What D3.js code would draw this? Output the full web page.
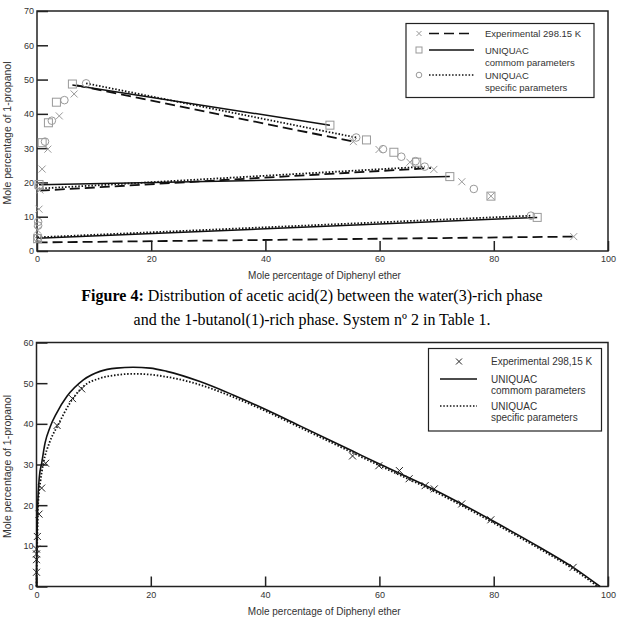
<!DOCTYPE html>
<html>
<head>
<meta charset="utf-8">
<script src="https://cdn.jsdelivr.net/npm/d3@7"></script>
<style>
  body { margin: 0; background: #fff; }
  svg { display: block; }
  .tick text { font-family: "Liberation Sans", Arial, sans-serif; font-size: 9px; fill: #333; }
  .lbl { font-family: "Liberation Sans", Arial, sans-serif; fill: #333; }
  .cap { font-family: "Liberation Serif", "Times New Roman", serif; font-size: 16px; fill: #000; }
</style>
</head>
<body>
<div id="chart"></div>
<script>
// ---- data: top chart (tie lines) ----
const topExp = [[0.1,3.3],[0.1,6.1],[0.35,12.2],[0.5,17.8],[0.9,23.9],[1.9,29.7],[3.9,39.4],[6.5,45.8],
  [55.4,31.9],[59.9,29.6],[65.3,25.9],[69.5,23.8],[74.4,20.2],[79.5,16.0],[94.0,4.2]]
const topCommon = [[0.1,3.6],[0.35,19.4],[0.9,31.6],[2.0,37.4],[3.4,43.4],[6.2,48.7],
  [51.3,36.7],[57.7,32.4],[62.5,28.8],[66.5,25.9],[72.3,21.7],[79.5,16.0],[87.6,9.8]]
const topSpecific = [[0.1,3.9],[0.2,7.4],[0.2,8.5],[0.3,18.8],[1.4,31.9],[2.6,38.0],[4.8,44.0],[8.6,48.9],
  [55.9,33.1],[60.6,29.7],[63.8,27.5],[66.3,26.2],[67.9,24.6],[76.5,18.1],[86.5,10.3]]
const tieExp = [[[0.1,2.5],[94.0,4.2]], [[0.5,17.6],[69.0,24.2]], [[7.0,48.3],[55.4,31.9]]]
const tieCommon = [[[0.1,3.7],[87.6,9.8]], [[0.35,19.3],[72.3,21.7]], [[6.2,48.4],[51.3,36.7]]]
const tieSpecific = [[[0.1,4.0],[86.5,10.3]], [[0.3,18.2],[67.9,24.6]], [[8.6,48.9],[55.9,33.1]]]

// ---- data: bottom chart (binodal curve) ----
const botExp = [[0.0,3.5],[0.0,6.6],[0.0,8.0],[0.0,9.2],[0.15,12.3],[0.44,17.8],[0.9,24.2],[1.6,30.3],[3.6,39.6],
  [6.3,46.2],[7.9,48.6],[55.3,32.1],[59.9,29.7],[63.5,28.5],[65.2,26.5],[68.0,24.8],[69.6,24.0],
  [74.4,20.3],[79.5,16.4],[93.9,4.7]]
const botCommon = [[0,0],[0.03,5],[0.08,10],[0.15,17],[0.5,27],[0.9,30.3],[1.5,35.3],[2.4,39.3],[3.5,42.6],
  [5.3,46.7],[8.2,50.8],[11.1,52.9],[14,53.7],[16.9,53.9],[19.9,53.7],[22.8,52.9],[28.6,50.4],[34.4,47.1],
  [40.3,43.4],[46.1,39.5],[55.3,33.3],[60.2,30.0],[69.6,23.8],[74.4,20.3],[79.5,16.4],[88.1,9.6],
  [93.9,4.7],[98.6,0]]
const botSpecific = [[0,0],[0.05,6],[0.15,12],[0.3,20.5],[0.7,26],[1.2,30.3],[2.3,35.5],[3.8,39.8],[5.8,45],
  [8.2,49.2],[11.1,51.2],[14,52],[16.9,52.3],[20,52.1],[23,51.5],[28.6,49.6],[34.4,46.6],[40.3,43.0],
  [46.1,39.1],[55.3,32.9],[60.2,29.6],[69.6,23.4],[74.4,19.9],[79.5,16.0],[88.1,9.2],[93.9,4.3],[98.2,0]]

const xTicks = [0, 20, 40, 60, 80, 100]
const yTicksTop = [0, 10, 20, 30, 40, 50, 60, 70]
const yTicksBot = [0, 10, 20, 30, 40, 50, 60]
const xTitle = 'Mole percentage of Diphenyl ether'
const yTitle = 'Mole percentage of 1-propanol'
const topLegend = [['Experimental 298.15 K'], ['UNIQUAC', 'commom parameters'], ['UNIQUAC', 'specific parameters']]
const botLegend = [['Experimental 298,15 K'], ['UNIQUAC', 'commom parameters'], ['UNIQUAC', 'specific parameters']]
const caption = ['Distribution of acetic acid(2) between the water(3)-rich phase',
  'and the 1-butanol(1)-rich phase. System nº 2 in Table 1.']

const W = 625, H = 617
const svg = d3.select('#chart').append('svg').attr('width', W).attr('height', H)

const DASH = '10,5', DOT = '1.5,1.8'
const GRAY = '#999'

// 画坐标框和刻度
function frame(box, yDomain, yTicks) {
  const x = d3.scaleLinear().domain([0, 100]).range([box.left, box.right])
  const y = d3.scaleLinear().domain(yDomain).range([box.bottom, box.top])
  const g = svg.append('g')
  g.append('rect')
    .attr('x', box.left).attr('y', box.top)
    .attr('width', box.right - box.left).attr('height', box.bottom - box.top)
    .attr('fill', 'none').attr('stroke', '#222').attr('stroke-width', 1.5)
  const ax = g.append('g').attr('transform', `translate(0,${box.bottom})`)
    .call(d3.axisBottom(x).tickValues(xTicks).tickSizeInner(-10).tickSizeOuter(0).tickPadding(5))
  const ay = g.append('g').attr('transform', `translate(${box.left},0)`)
    .call(d3.axisLeft(y).tickValues(yTicks).tickSizeInner(-11).tickSizeOuter(0).tickPadding(3))
  ;[ax, ay].forEach(a => {
    a.select('.domain').remove()
    a.selectAll('.tick line').attr('stroke', '#222').attr('stroke-width', 1.5)
  })
  g.append('text').attr('class', 'lbl').attr('font-size', 10)
    .attr('x', (box.left + box.right) / 2 + 2).attr('y', box.bottom + 28)
    .attr('text-anchor', 'middle').text(xTitle)
  g.append('text').attr('class', 'lbl').attr('font-size', 10.5)
    .attr('transform', `translate(11,${(box.top + box.bottom) / 2 + 2}) rotate(-90)`)
    .attr('text-anchor', 'middle').text(yTitle)
  return { x, y, g }
}

function cross(g, cx, cy, s, color) {
  g.append('path').attr('d', `M${cx - s},${cy - s}L${cx + s},${cy + s}M${cx - s},${cy + s}L${cx + s},${cy - s}`)
    .attr('stroke', color).attr('stroke-width', 1).attr('fill', 'none')
}
function square(g, cx, cy, s, color) {
  g.append('rect').attr('x', cx - s).attr('y', cy - s).attr('width', 2 * s).attr('height', 2 * s)
    .attr('fill', 'none').attr('stroke', color).attr('stroke-width', 1)
}
function circle(g, cx, cy, r, color) {
  g.append('circle').attr('cx', cx).attr('cy', cy).attr('r', r)
    .attr('fill', 'none').attr('stroke', color).attr('stroke-width', 1)
}

// ---------- top chart ----------
const topC = frame({ left: 37, right: 608, top: 11, bottom: 251 }, [0, 70], yTicksTop)
const tl = d3.line().x(d => topC.x(d[0])).y(d => topC.y(d[1]))
const tiesG = topC.g.append('g').attr('fill', 'none').attr('stroke', '#111').attr('stroke-width', 1.5)
tieExp.forEach(d => tiesG.append('path').attr('d', tl(d)).attr('stroke-dasharray', DASH).attr('stroke-width', 1.8))
tieCommon.forEach(d => tiesG.append('path').attr('d', tl(d)))
tieSpecific.forEach(d => tiesG.append('path').attr('d', tl(d)).attr('stroke-dasharray', DOT).attr('stroke-width', 1.8))
const mk = topC.g.append('g')
topExp.forEach(d => cross(mk, topC.x(d[0]), topC.y(d[1]), 3.5, GRAY))
topCommon.forEach(d => square(mk, topC.x(d[0]), topC.y(d[1]), 4, GRAY))
topSpecific.forEach(d => circle(mk, topC.x(d[0]), topC.y(d[1]), 3.8, GRAY))

// 图例
const lg = topC.g.append('g')
lg.append('rect').attr('x', 406).attr('y', 23.5).attr('width', 188).attr('height', 74)
  .attr('fill', '#fff').attr('stroke', '#222').attr('stroke-width', 1.2)
const rowsTop = [33.5, 50, 75]
cross(lg, 419, rowsTop[0], 2.5, GRAY)
square(lg, 419, rowsTop[1], 3, GRAY)
circle(lg, 419, rowsTop[2], 2.8, GRAY)
const dashes = [DASH, null, DOT]
rowsTop.forEach((ry, i) => {
  lg.append('line').attr('x1', 429).attr('x2', 474).attr('y1', ry).attr('y2', ry)
    .attr('stroke', '#111').attr('stroke-width', 1.6).attr('stroke-dasharray', dashes[i])
  topLegend[i].forEach((t, j) => {
    lg.append('text').attr('class', 'lbl').attr('font-size', 9.5)
      .attr('x', 485).attr('y', ry + 3.5 + j * 12).text(t)
  })
})

// ---------- caption ----------
const c1 = svg.append('text').attr('class', 'cap').attr('x', 312).attr('y', 301).attr('text-anchor', 'middle')
c1.append('tspan').attr('font-weight', 'bold').text('Figure 4: ')
c1.append('tspan').text(caption[0])
svg.append('text').attr('class', 'cap').attr('x', 312).attr('y', 325).attr('text-anchor', 'middle').text(caption[1])

// ---------- bottom chart ----------
const botC = frame({ left: 36.5, right: 608, top: 342.5, bottom: 586.5 }, [0, 60], yTicksBot)
const bl = d3.line().x(d => botC.x(d[0])).y(d => botC.y(d[1])).curve(d3.curveMonotoneX)
botC.g.append('path').attr('d', bl(botSpecific)).attr('fill', 'none')
  .attr('stroke', '#111').attr('stroke-width', 1.8).attr('stroke-dasharray', DOT)
botC.g.append('path').attr('d', bl(botCommon)).attr('fill', 'none')
  .attr('stroke', '#111').attr('stroke-width', 1.6)
const mk2 = botC.g.append('g')
botExp.forEach(d => cross(mk2, botC.x(d[0]), botC.y(d[1]), 3.5, '#222'))

const lg2 = botC.g.append('g')
lg2.append('rect').attr('x', 428.5).attr('y', 348.5).attr('width', 173).attr('height', 82.5)
  .attr('fill', '#fff').attr('stroke', '#222').attr('stroke-width', 1.2)
const rowsBot = [361.5, 379, 406]
cross(lg2, 459, rowsBot[0], 3, '#222')
lg2.append('line').attr('x1', 440).attr('x2', 477).attr('y1', rowsBot[1]).attr('y2', rowsBot[1])
  .attr('stroke', '#111').attr('stroke-width', 1.6)
lg2.append('line').attr('x1', 440).attr('x2', 477).attr('y1', rowsBot[2]).attr('y2', rowsBot[2])
  .attr('stroke', '#111').attr('stroke-width', 1.6).attr('stroke-dasharray', DOT)
rowsBot.forEach((ry, i) => {
  botLegend[i].forEach((t, j) => {
    lg2.append('text').attr('class', 'lbl').attr('font-size', 10)
      .attr('x', 491).attr('y', ry + 3.5 + j * 11.5).text(t)
  })
})
</script>
</body>
</html>
